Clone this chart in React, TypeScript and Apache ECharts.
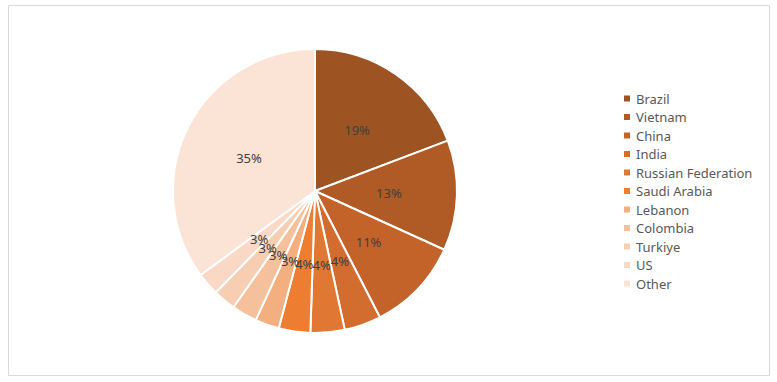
import React, { useEffect, useRef } from "react";
import * as echarts from "echarts";

const categories = [
  "Brazil",
  "Vietnam",
  "China",
  "India",
  "Russian Federation",
  "Saudi Arabia",
  "Lebanon",
  "Colombia",
  "Turkiye",
  "US",
  "Other",
];
const shares = [19.3, 12.6, 10.7, 4.2, 3.9, 3.6, 2.75, 2.9, 2.6, 2.6, 35.2];
const colors = [
  "#9E5322",
  "#B05A25",
  "#C3632A",
  "#D26C2F",
  "#E07732",
  "#ED7D31",
  "#F3AF80",
  "#F5C19C",
  "#F8CEB2",
  "#F9D9C5",
  "#FBE3D5",
];

export default function App() {
  const ref = useRef<HTMLDivElement>(null);
  useEffect(() => {
    if (!ref.current) return;
    const chart = echarts.init(ref.current, undefined, { renderer: "svg" });
    const total = shares.reduce((a, b) => a + b, 0);
    chart.setOption({
      animation: false,
      backgroundColor: "#ffffff",
      graphic: [
        {
          type: "rect",
          shape: { x: 8.5, y: 5.5, width: 761, height: 370 },
          style: { fill: "none", stroke: "#d9d9d9", lineWidth: 1 },
          silent: true,
        },
      ],
      legend: {
        orient: "vertical",
        left: 617,
        top: 86,
        itemWidth: 8,
        itemHeight: 8,
        itemGap: 3.5,
        icon: "rect",
        data: categories,
        textStyle: {
          fontFamily: "Noto Sans",
          fontSize: 13,
          color: "#595959",
          lineHeight: 15,
        },
      },
      series: [
        {
          type: "pie",
          center: [315, 191],
          radius: [0, 142],
          startAngle: 90,
          clockwise: true,
          avoidLabelOverlap: false,
          labelLayout: { hideOverlap: false },
          data: categories.map((name, i) => ({
            name,
            value: shares[i],
            itemStyle: { color: colors[i] },
          })),
          itemStyle: { borderColor: "#ffffff", borderWidth: 2 },
          label: {
            show: true,
            position: "inside",
            formatter: (p: any) => Math.round((p.value / total) * 100) + "%",
            fontFamily: "Noto Sans",
            fontSize: 13,
            color: "#404040",
          },
          labelLine: { show: false },
          emphasis: { disabled: true },
        },
      ],
    });
    return () => chart.dispose();
  }, []);
  return (
    <div
      ref={ref}
      style={{ position: "absolute", left: 0, top: 0, width: 777, height: 382 }}
    />
  );
}
